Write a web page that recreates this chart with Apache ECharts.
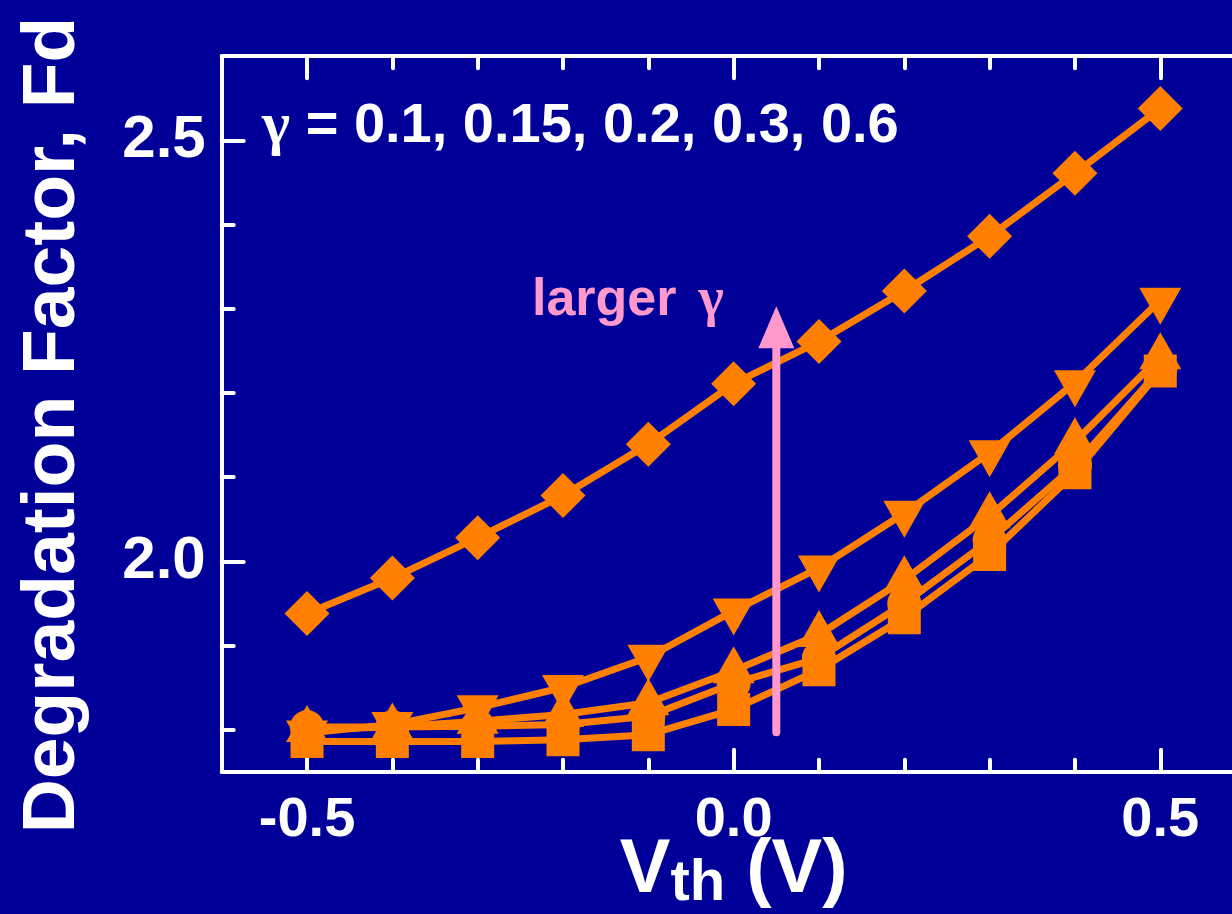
<!DOCTYPE html>
<html><head><meta charset="utf-8">
<script src="https://cdn.jsdelivr.net/npm/echarts@6/dist/echarts.min.js"></script>
<style>html,body{margin:0;padding:0;background:#000099;}#c{width:1232px;height:914px;}</style>
</head><body><div id="c"></div>
<script>
// ---- data ----
const vth = [-0.5, -0.4, -0.3, -0.2, -0.1, 0.0, 0.1, 0.2, 0.3, 0.4, 0.5];
const fdGamma010 = [1.786, 1.786, 1.786, 1.788, 1.794, 1.824, 1.871, 1.933, 2.008, 2.105, 2.226]; // squares
const fdGamma015 = [1.803, 1.803, 1.804, 1.806, 1.816, 1.855, 1.885, 1.950, 2.025, 2.114, 2.228]; // circles
const fdGamma020 = [1.800, 1.803, 1.810, 1.818, 1.832, 1.870, 1.913, 1.978, 2.054, 2.142, 2.243]; // up triangles
const fdGamma030 = [1.796, 1.806, 1.826, 1.850, 1.886, 1.941, 1.992, 2.057, 2.129, 2.212, 2.310]; // down triangles
const fdGamma060 = [1.938, 1.980, 2.028, 2.078, 2.139, 2.211, 2.261, 2.321, 2.386, 2.461, 2.538]; // diamonds
const xMajorTicks = [-0.5, 0.0, 0.5];
const xMinorTicks = [-0.4, -0.3, -0.2, -0.1, 0.1, 0.2, 0.3, 0.4];
const yMajorTicks = [2.0, 2.5];
const yMinorTicks = [1.8, 1.9, 2.1, 2.2, 2.3, 2.4];
const arrowX = 0.05;
const arrowFrom = 1.797;
const arrowTo = 2.26;
const arrowHead = 2.278;
const gammaText = ' = 0.1, 0.15, 0.2, 0.3, 0.6';

const FONT = '"Liberation Sans", Arial, Helvetica, sans-serif';
const SERIF = '"Liberation Serif", "Times New Roman", serif';
const ORANGE = '#FF8000';
const PINK = '#FF99CC';

function pairs(ys) { return vth.map((x, i) => [x, ys[i]]); }

function xAx(pos, ticks, len, showLine, showLabel) {
  return {
    type: 'value', min: -0.6, max: 0.6, position: pos,
    axisLine: { show: showLine, onZero: false, lineStyle: { color: '#fff', width: 4 } },
    axisTick: { show: true, inside: true, length: len, customValues: ticks, lineStyle: { color: '#fff', width: 4, cap: 'round' } },
    axisLabel: showLabel ? { show: true, customValues: xMajorTicks, margin: 21, color: '#fff', fontSize: 56, fontWeight: 'bold', fontFamily: FONT, formatter: v => v.toFixed(1) } : { show: false },
    splitLine: { show: false }
  };
}
function yAx(ticks, len, showLine, showLabel) {
  return {
    type: 'value', min: 1.75, max: 2.6, position: 'left',
    axisLine: { show: showLine, onZero: false, lineStyle: { color: '#fff', width: 4 } },
    axisTick: { show: true, inside: true, length: len, customValues: ticks, lineStyle: { color: '#fff', width: 4, cap: 'round' } },
    axisLabel: showLabel ? { show: true, customValues: yMajorTicks, margin: 16, color: '#fff', fontSize: 60, fontWeight: 'bold', fontFamily: FONT, formatter: v => v.toFixed(1) } : { show: false },
    splitLine: { show: false }
  };
}

const xa0 = xAx('bottom', xMajorTicks, 22, true, true);
xa0.name = '{v|V}{s|th}{v| (V)}';
xa0.nameLocation = 'middle';
xa0.nameGap = 57;
xa0.nameMoveOverlap = false;
xa0.nameTextStyle = {
  color: '#fff', fontFamily: FONT, fontWeight: 'bold',
  rich: {
    v: { fontSize: 76, fontWeight: 'bold', color: '#fff', fontFamily: FONT },
    s: { fontSize: 58, fontWeight: 'bold', color: '#fff', fontFamily: FONT, padding: [26, 0, 0, 0] }
  }
};
const ya0 = yAx(yMajorTicks, 22, true, true);
ya0.name = 'Degradation Factor, Fd';
ya0.nameLocation = 'middle';
ya0.nameGap = 131;
ya0.nameMoveOverlap = false;
ya0.nameTextStyle = { color: '#fff', fontSize: 75, fontWeight: 'bold', fontFamily: FONT, padding: [0, 22, 0, 0] };

function mk(name, ys, symbol, size, rotate, offset) {
  return {
    name, type: 'line', data: pairs(ys), xAxisIndex: 0, yAxisIndex: 0,
    symbol, symbolSize: size, symbolRotate: rotate, symbolOffset: offset, showSymbol: true,
    lineStyle: { color: ORANGE, width: 7 }, itemStyle: { color: ORANGE, opacity: 1 },
    z: 3
  };
}

const chart = echarts.init(document.getElementById('c'), null, { renderer: 'canvas' });
chart.setOption({
  animation: false,
  backgroundColor: '#000099',
  grid: { left: 221.7, right: -13.6, top: 56.2, bottom: 142.3, containLabel: false, outerBoundsMode: 'none' },
  xAxis: [xa0, xAx('bottom', xMinorTicks, 12, false, false), xAx('top', xMajorTicks, 22, true, false), xAx('top', xMinorTicks, 12, false, false)],
  yAxis: [ya0, yAx(yMinorTicks, 12, false, false)],
  title: [
    { text: '{g|γ}{t|' + gammaText + '}', left: 262, top: 97, padding: 0,
      textStyle: { rich: {
        g: { fontSize: 60, fontFamily: SERIF, color: '#fff' },
        t: { fontSize: 56, fontWeight: 'bold', fontFamily: FONT, color: '#fff' } } } },
    { text: '{t|larger}{g|γ}', left: 532, top: 274, padding: 0,
      textStyle: { rich: {
        t: { fontSize: 52, fontWeight: 'bold', fontFamily: FONT, color: PINK },
        g: { fontSize: 54, fontFamily: SERIF, color: PINK, padding: [0, 0, 0, 22] } } } }
  ],
  series: [
    mk('γ=0.6', fdGamma060, 'diamond', 45, 0, [0, 0]),
    mk('γ=0.3', fdGamma030, 'triangle', [42, 37], 180, [0, 6]),
    mk('γ=0.2', fdGamma020, 'triangle', [42, 37], 0, [0, -6]),
    mk('γ=0.15', fdGamma015, 'circle', 34, 0, [0, 0]),
    mk('γ=0.1', fdGamma010, 'rect', 33, 0, [0, 0]),
    { type: 'line', data: [[arrowX, arrowFrom], [arrowX, arrowTo]], symbol: 'none',
      lineStyle: { color: PINK, width: 8, cap: 'round' }, z: 6, silent: true },
    { type: 'scatter', data: [[arrowX, arrowHead]], symbol: 'triangle', symbolSize: [36, 42],
      itemStyle: { color: PINK, opacity: 1 }, z: 6, silent: true }
  ]
});
</script></body></html>
